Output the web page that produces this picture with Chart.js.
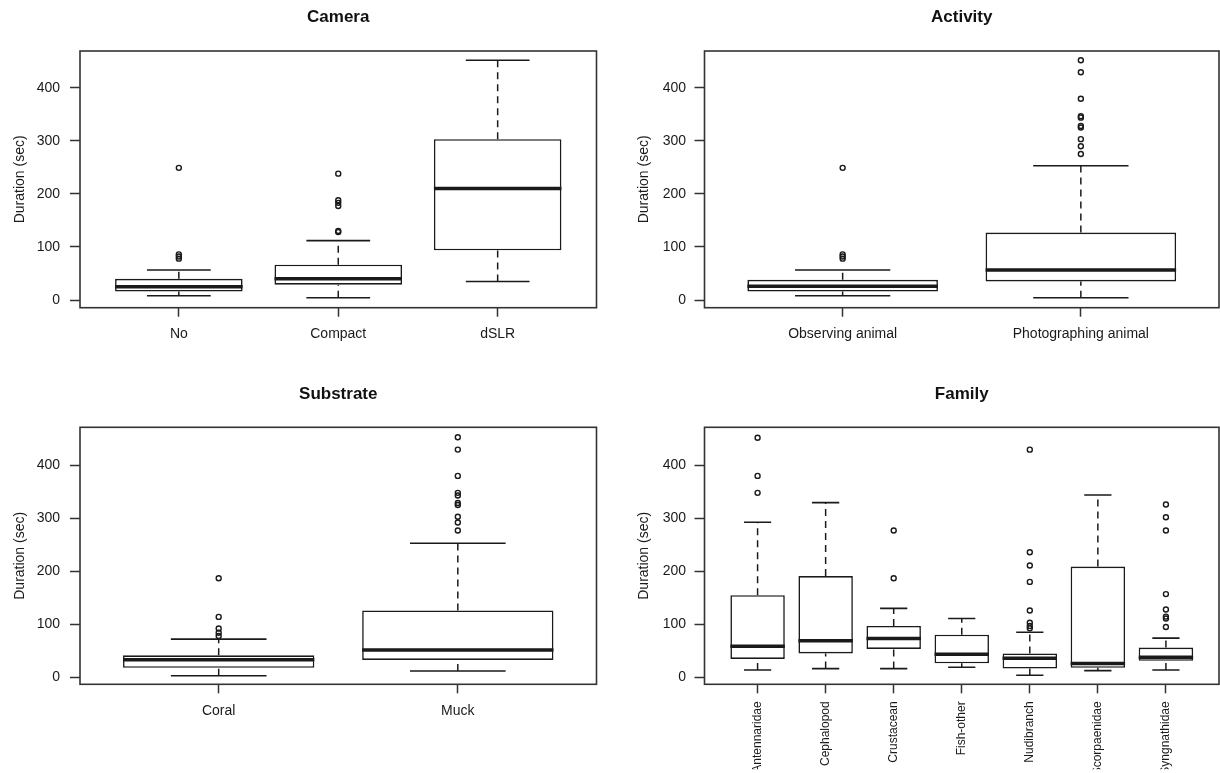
<!DOCTYPE html>
<html>
<head>
<meta charset="utf-8">
<script src="https://cdn.jsdelivr.net/npm/chart.js@4.4.1/dist/chart.umd.min.js"></script>
<style>
  html, body { margin: 0; padding: 0; background: #ffffff; }
  #wrap { position: relative; width: 1220px; height: 773px; overflow: hidden; background: #fff; }
  .panel { position: absolute; }
</style>
</head>
<body>
<div id="wrap">
  <div class="panel" style="left:0px;top:0px;width:610px;height:380px"><canvas id="c1" width="610" height="380"></canvas></div>
  <div class="panel" style="left:610px;top:0px;width:610px;height:380px"><canvas id="c2" width="610" height="380"></canvas></div>
  <div class="panel" style="left:0px;top:380px;width:610px;height:393px"><canvas id="c3" width="610" height="393"></canvas></div>
  <div class="panel" style="left:610px;top:380px;width:610px;height:393px"><canvas id="c4" width="610" height="393"></canvas></div>
</div>
<script>
// ---------------- DATA ----------------
const yTicks = [0, 100, 200, 300, 400];
const yAxisTitle = 'Duration (sec)';

// Camera
const cameraTitle = 'Camera';
const cameraCats = ['No', 'Compact', 'dSLR'];
const cameraLow = [8, 4.4, 35];
const cameraQ1 = [16, 29, 93.6];
const cameraMedian = [25, 40, 210];
const cameraQ3 = [40, 66.5, 303];
const cameraHigh = [56.5, 112, 451.5];
const cameraOutliers = [[78, 82, 86, 249], [128, 130, 177, 183, 188, 238], []];

// Activity
const activityTitle = 'Activity';
const activityCats = ['Observing animal', 'Photographing animal'];
const activityLow = [8, 4.4];
const activityQ1 = [16, 35];
const activityMedian = [26, 56.5];
const activityQ3 = [38, 127];
const activityHigh = [56.5, 253];
const activityOutliers = [[78, 82, 86, 249], [275, 289.5, 303, 325, 328, 343.5, 346, 379, 429, 451.5]];

// Substrate
const substrateTitle = 'Substrate';
const substrateCats = ['Coral', 'Muck'];
const substrateLow = [3, 12];
const substrateQ1 = [18, 32.7];
const substrateMedian = [33, 51.6];
const substrateQ3 = [41.5, 126];
const substrateHigh = [72, 253];
const substrateOutliers = [[78, 84, 92, 114, 187], [277, 292, 303, 325, 329, 343, 348, 380, 429.6, 453]];

// Family
const familyTitle = 'Family';
const familyCats = ['Antennaridae', 'Cephalopod', 'Crustacean', 'Fish-other', 'Nudibranch', 'Scorpaenidae', 'Syngnathidae'];
const familyLow = [13.8, 16.4, 16.4, 19, 3.8, 12.6, 13.8];
const familyQ1 = [34.6, 45, 53.5, 26.4, 16.4, 18, 31];
const familyMedian = [58.5, 69, 73, 43.4, 36, 26, 38];
const familyQ3 = [155, 191, 97, 80.5, 45, 209, 56];
const familyHigh = [292.5, 329.5, 130, 111, 85, 344, 74];
const familyOutliers = [[348, 380, 452], [], [187, 277], [], [92.5, 97, 103, 126, 180, 211, 236, 429.5], [], [95, 111, 114.5, 128, 157, 277, 302, 326]];

// y-ranges (R style, data range extended by 4%)
const topRowYRange = [-14.4, 469];
const bottomRowYRange = [-13.2, 471.7];

// ---------------- STYLE ----------------
const FONT = '"Liberation Sans", Arial, Helvetica, sans-serif';
const INK = '#1a1a1a';
const BOXW = 0.8, STAPLE = 0.4;

const framePlugin = {
  id: 'frame',
  afterDraw(chart) {
    const a = chart.chartArea, ctx = chart.ctx;
    ctx.save();
    ctx.strokeStyle = '#333';
    ctx.lineWidth = 1.6;
    ctx.strokeRect(a.left, a.top, a.right - a.left, a.bottom - a.top);
    ctx.restore();
  }
};

function makePanel(id, title, cats, low, q1, med, q3, high, outs, L) {
  const n = cats.length;
  const boxes = cats.map((c, i) => ({ x: i + 1, y: [q1[i], q3[i]] }));
  const whiskers = [], staples = [], medians = [], points = [];
  cats.forEach((c, i) => {
    const x = i + 1;
    whiskers.push({ x, y: q3[i] }, { x, y: high[i] }, { x, y: null },
                  { x, y: low[i] }, { x, y: q1[i] }, { x, y: null });
    staples.push({ x: x - STAPLE / 2, y: high[i] }, { x: x + STAPLE / 2, y: high[i] }, { x, y: null },
                 { x: x - STAPLE / 2, y: low[i] }, { x: x + STAPLE / 2, y: low[i] }, { x, y: null });
    medians.push({ x: x - BOXW / 2, y: med[i] }, { x: x + BOXW / 2, y: med[i] }, { x, y: null });
    outs[i].forEach(v => points.push({ x, y: v }));
  });

  const ext = 0.04 * n;
  new Chart(document.getElementById(id), {
    type: 'bar',
    data: {
      datasets: [
        { type: 'scatter', data: points, order: 0, pointStyle: 'circle', pointRadius: 2.5, pointHoverRadius: 2.5,
          pointBorderWidth: 1.4, pointBackgroundColor: 'rgba(0,0,0,0)', pointBorderColor: INK, showLine: false },
        { type: 'line', data: medians, order: 1, borderColor: INK, borderWidth: 3.5, pointRadius: 0,
          fill: false, spanGaps: false, borderCapStyle: 'butt' },
        { type: 'bar', data: boxes, order: 2, backgroundColor: '#ffffff', borderColor: INK, borderWidth: 1.6,
          borderSkipped: false, barPercentage: BOXW, categoryPercentage: 1.0, grouped: false },
        { type: 'line', data: staples, order: 3, borderColor: INK, borderWidth: 1.6, pointRadius: 0,
          fill: false, spanGaps: false, borderCapStyle: 'butt' },
        { type: 'line', data: whiskers, order: 4, borderColor: INK, borderWidth: 1.5, pointRadius: 0,
          fill: false, spanGaps: false, borderDash: [7, 5], borderCapStyle: 'butt' }
      ]
    },
    options: {
      responsive: false,
      devicePixelRatio: 1,
      animation: false,
      events: [],
      layout: { autoPadding: false, padding: { left: 0, right: L.padRight, top: 0, bottom: L.padBottom } },
      plugins: {
        legend: { display: false },
        tooltip: { enabled: false },
        title: {
          display: true, text: title, fullSize: false, color: '#111',
          font: { family: FONT, size: 17, weight: 'bold', lineHeight: 1.2 },
          padding: { top: L.titleTop, bottom: L.titleBottom }
        }
      },
      scales: {
        x: {
          type: 'linear', offset: false,
          min: 0.5 - ext, max: n + 0.5 + ext,
          afterBuildTicks: s => { s.ticks = cats.map((c, i) => ({ value: i + 1 })); },
          afterFit: s => { s.height = L.xH; },
          grid: { display: true, offset: false, drawOnChartArea: false, drawTicks: true,
                  tickLength: 9, tickWidth: 1.5, tickColor: '#333' },
          border: { display: false },
          ticks: {
            autoSkip: false, color: INK,
            font: { family: FONT, size: L.xFont },
            padding: L.xPad,
            minRotation: L.rot, maxRotation: L.rot,
            callback: v => cats[Math.round(v) - 1]
          }
        },
        y: {
          type: 'linear', min: L.yRange[0], max: L.yRange[1],
          afterBuildTicks: s => { s.ticks = yTicks.map(v => ({ value: v })); },
          afterFit: s => { s.width = L.yW; },
          grid: { display: true, drawOnChartArea: false, drawTicks: true,
                  tickLength: 10, tickWidth: 1.5, tickColor: '#333' },
          border: { display: false },
          ticks: { color: INK, font: { family: FONT, size: 14 }, padding: L.yPad },
          title: { display: true, text: yAxisTitle, color: INK,
                   font: { family: FONT, size: 14 }, padding: { top: L.yTitleTop, bottom: 0 } }
        }
      }
    },
    plugins: [framePlugin]
  });
}

const layoutTL = { padRight: 13.5, padBottom: 32.3, xH: 40, yW: 80, titleTop: 7.3, titleBottom: 23.3,
                   xFont: 14, xPad: 9.5, rot: 0, yPad: 10, yTitleTop: 12, yRange: topRowYRange };
const layoutTR = { padRight: 1, padBottom: 32.3, xH: 40, yW: 94.5, titleTop: 7.3, titleBottom: 23.3,
                   xFont: 14, xPad: 9.5, rot: 0, yPad: 8.5, yTitleTop: 26.1, yRange: topRowYRange };
const layoutBL = { padRight: 13.5, padBottom: 48.7, xH: 40, yW: 80, titleTop: 4.3, titleBottom: 22.6,
                   xFont: 14, xPad: 9.5, rot: 0, yPad: 10, yTitleTop: 12, yRange: bottomRowYRange };
const layoutBR = { padRight: 1, padBottom: 3.7, xH: 85, yW: 94.5, titleTop: 4.3, titleBottom: 22.6,
                   xFont: 12, xPad: 8, rot: 90, yPad: 8.5, yTitleTop: 26.1, yRange: bottomRowYRange };

makePanel('c1', cameraTitle, cameraCats, cameraLow, cameraQ1, cameraMedian, cameraQ3, cameraHigh, cameraOutliers, layoutTL);
makePanel('c2', activityTitle, activityCats, activityLow, activityQ1, activityMedian, activityQ3, activityHigh, activityOutliers, layoutTR);
makePanel('c3', substrateTitle, substrateCats, substrateLow, substrateQ1, substrateMedian, substrateQ3, substrateHigh, substrateOutliers, layoutBL);
makePanel('c4', familyTitle, familyCats, familyLow, familyQ1, familyMedian, familyQ3, familyHigh, familyOutliers, layoutBR);
</script>
</body>
</html>
